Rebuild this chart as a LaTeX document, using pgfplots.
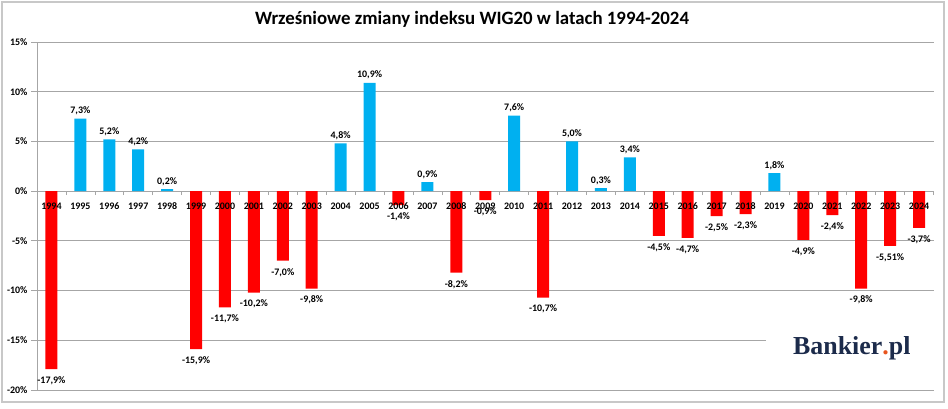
\documentclass[border=0pt]{standalone}
\usepackage{fontspec}
\setmainfont{Carlito}
\newfontfamily\logofont{Liberation Serif}
\usepackage{pgfplots}
\pgfplotsset{compat=1.18}
\usepackage{pgfplotstable}
\definecolor{barblue}{HTML}{00B0F0}
\definecolor{barred}{HTML}{FF0000}
\definecolor{gridgray}{HTML}{A6A6A6}
\definecolor{bordergray}{HTML}{C8C8C8}
\definecolor{navy}{HTML}{1C2B4B}
\definecolor{dotorange}{HTML}{E8541E}

\pgfplotsset{
  commonaxis/.style={
    at={(37bp,18bp)}, anchor=south west,
    scale only axis, width=896.5bp, height=348bp,
    xmin=-0.5, xmax=30.5, ymin=-20, ymax=15,
    /pgf/number format/assume math mode=true,
    tick label style={font=\bfseries\fontsize{10}{12}\selectfont, text=black},
    clip=false,
  },
}

\pgfplotstableread{
x y lab
1 7.3 7,3\%
2 5.2 5,2\%
3 4.2 4,2\%
4 0.2 0,2\%
10 4.8 4,8\%
11 10.9 10,9\%
13 0.9 0,9\%
16 7.6 7,6\%
18 5.0 5,0\%
19 0.3 0,3\%
20 3.4 3,4\%
25 1.8 1,8\%
}\postab

\pgfplotstableread{
x y lab
0 -17.9 -17,9\%
5 -15.9 -15,9\%
6 -11.7 -11,7\%
7 -10.2 -10,2\%
8 -7.0 -7,0\%
9 -9.8 -9,8\%
12 -1.4 -1,4\%
14 -8.2 -8,2\%
15 -0.9 -0,9\%
17 -10.7 -10,7\%
21 -4.5 -4,5\%
22 -4.7 -4,7\%
23 -2.5 -2,5\%
24 -2.3 -2,3\%
26 -4.9 -4,9\%
27 -2.4 -2,4\%
28 -9.8 -9,8\%
29 -5.51 -5,51\%
30 -3.7 -3,7\%
}\negtab

\begin{document}
\begin{tikzpicture}[x=1bp,y=1bp]
\useasboundingbox (0,0) rectangle (948,408);
\draw[bordergray, line width=1.5bp] (2,6) rectangle (944,406);
\node[font=\bfseries\fontsize{18.9}{22}\selectfont] at (472,389) {Wrześniowe zmiany indeksu WIG20 w latach 1994-2024};
\begin{axis}[
  commonaxis,
  axis x line=middle, axis y line=left,
  axis line style={draw=gridgray, line width=0.8bp, -},
  xtick={0,...,30},
  xticklabels={},
  xtick style={draw=none},
  minor xtick={-0.5,0.5,...,30.5},
  minor x tick style={draw=gridgray, line width=0.6bp},
  minor tick length=4bp,
  major tick length=6bp,
  tick align=outside,
  ytick={-20,-15,...,15},
  yticklabel={\pgfmathprintnumber{\tick}\%},
  ytick style={draw=gridgray, line width=0.8bp},
  ymajorgrids,
  grid style={draw=gridgray, line width=0.8bp},
]
\addplot[ybar, bar width=12bp, bar shift=0pt, fill=barblue, draw=none,
  nodes near coords, point meta=explicit symbolic,
  every node near coord/.append style={anchor=south, font=\bfseries\fontsize{10}{12}\selectfont, text=black}]
  table[x=x, y=y, meta=lab] {\postab};
\addplot[ybar, bar width=12bp, bar shift=0pt, fill=barred, draw=none,
  nodes near coords, point meta=explicit symbolic,
  every node near coord/.append style={anchor=north, yshift=-4bp, font=\bfseries\fontsize{10}{12}\selectfont, text=black}]
  table[x=x, y=y, meta=lab] {\negtab};
\end{axis}
\begin{axis}[
  commonaxis,
  axis x line=middle, hide y axis,
  axis line style={draw=none},
  xtick={0,...,30},
  xticklabel={\pgfmathparse{int(\tick+1994)}\pgfmathresult},
  xtick style={draw=none},
  major tick length=6bp,
  tick align=outside,
  x tick label style={yshift=-2bp},
]
\end{axis}
\fill[white] (766,30) rectangle (936,96);
\node[font=\logofont\bfseries\fontsize{26}{30}\selectfont, text=navy, anchor=base west, inner sep=0pt] at (793,54) {Bankier\textcolor{dotorange}{.}pl};
\end{tikzpicture}
\end{document}
